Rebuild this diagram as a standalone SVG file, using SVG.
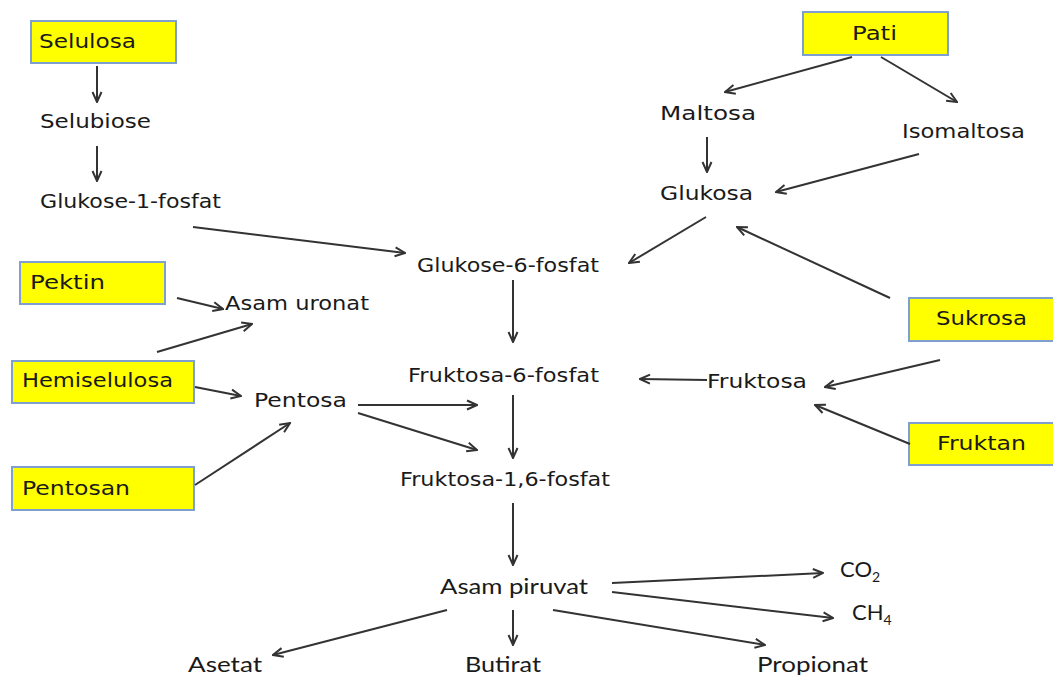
<svg xmlns="http://www.w3.org/2000/svg" width="1053" height="675" viewBox="0 0 1053 675">
<style>
.box{fill:#ffff00;stroke:#7f9fd0;stroke-width:2}
.t{font-family:"DejaVu Sans","Open Sans",sans-serif;font-size:20px;fill:#1a1a1a}
.b{font-family:Lato,"Open Sans",sans-serif;font-size:22px;fill:#1a1a1a}
.c line{stroke:#333;stroke-width:2;marker-end:url(#ah)}
</style>
<defs>
<marker id="ah" viewBox="0 0 12 12" refX="11" refY="6" markerWidth="12" markerHeight="12" markerUnits="userSpaceOnUse" orient="auto">
<path d="M1,1.5 L11,6 L1,10.5" fill="none" stroke="#333" stroke-width="2"/>
</marker>
</defs>
<rect width="1053" height="675" fill="#fff"/>
<g id="selulosa"><rect class="box" x="31" y="21" width="145" height="42"/><text class="t" x="39" y="48" textLength="97" lengthAdjust="spacingAndGlyphs">Selulosa</text></g>
<g id="pati"><rect class="box" x="803" y="12" width="145" height="43"/><text class="t" x="852" y="40" textLength="45" lengthAdjust="spacingAndGlyphs">Pati</text></g>
<g id="pektin"><rect class="box" x="20" y="262" width="145" height="42"/><text class="t" x="30" y="289" textLength="75" lengthAdjust="spacingAndGlyphs">Pektin</text></g>
<g id="hemiselulosa"><rect class="box" x="12" y="361" width="182" height="42"/><text class="t" x="22" y="387" textLength="151" lengthAdjust="spacingAndGlyphs">Hemiselulosa</text></g>
<g id="pentosan"><rect class="box" x="12" y="467" width="182" height="43"/><text class="t" x="22" y="495" textLength="108" lengthAdjust="spacingAndGlyphs">Pentosan</text></g>
<g id="sukrosa"><rect class="box" x="909" y="298" width="150" height="43"/><text class="t" x="936" y="325" textLength="91" lengthAdjust="spacingAndGlyphs">Sukrosa</text></g>
<g id="fruktan"><rect class="box" x="909" y="423" width="150" height="42"/><text class="t" x="937" y="450" textLength="89" lengthAdjust="spacingAndGlyphs">Fruktan</text></g>
<g id="selubiose"><text class="t" x="40" y="128" textLength="111" lengthAdjust="spacingAndGlyphs">Selubiose</text></g>
<g id="glukose1"><text class="t" x="40" y="208" textLength="181" lengthAdjust="spacingAndGlyphs">Glukose-1-fosfat</text></g>
<g id="maltosa"><text class="t" x="660" y="120" textLength="96" lengthAdjust="spacingAndGlyphs">Maltosa</text></g>
<g id="isomaltosa"><text class="t" x="902" y="138" textLength="123" lengthAdjust="spacingAndGlyphs">Isomaltosa</text></g>
<g id="glukosa"><text class="t" x="660" y="200" textLength="93" lengthAdjust="spacingAndGlyphs">Glukosa</text></g>
<g id="glukose6"><text class="t" x="417" y="272" textLength="182" lengthAdjust="spacingAndGlyphs">Glukose-6-fosfat</text></g>
<g id="asamuronat"><text class="t" x="225" y="310" textLength="144" lengthAdjust="spacingAndGlyphs">Asam uronat</text></g>
<g id="pentosa"><text class="t" x="254" y="407" textLength="93" lengthAdjust="spacingAndGlyphs">Pentosa</text></g>
<g id="fruktosa6"><text class="t" x="408" y="382" textLength="191" lengthAdjust="spacingAndGlyphs">Fruktosa-6-fosfat</text></g>
<g id="fruktosa16"><text class="t" x="400" y="486" textLength="210" lengthAdjust="spacingAndGlyphs">Fruktosa-1,6-fosfat</text></g>
<g id="fruktosa"><text class="t" x="707" y="388" textLength="100" lengthAdjust="spacingAndGlyphs">Fruktosa</text></g>
<g id="asampiruvat"><text class="b" x="440" y="594" textLength="148" lengthAdjust="spacingAndGlyphs">Asam piruvat</text></g>
<g id="asetat"><text class="b" x="188" y="672" textLength="74" lengthAdjust="spacingAndGlyphs">Asetat</text></g>
<g id="butirat"><text class="b" x="465" y="672" textLength="76" lengthAdjust="spacingAndGlyphs">Butirat</text></g>
<g id="propionat"><text class="b" x="757" y="672" textLength="111" lengthAdjust="spacingAndGlyphs">Propionat</text></g>
<g id="co2"><text class="b" x="840" y="577">CO<tspan font-size="14" dy="5">2</tspan></text></g>
<g id="ch4"><text class="b" x="852" y="620">CH<tspan font-size="14" dy="5">4</tspan></text></g>
<g id="connectors" class="c">
<line x1="97" y1="66" x2="97" y2="102"/>
<line x1="97" y1="146" x2="97" y2="181"/>
<line x1="193" y1="227" x2="405" y2="253"/>
<line x1="852" y1="57" x2="725" y2="92"/>
<line x1="881" y1="57" x2="957" y2="102"/>
<line x1="707" y1="137" x2="707" y2="172"/>
<line x1="919" y1="154" x2="776" y2="192"/>
<line x1="706" y1="217" x2="629" y2="263"/>
<line x1="890" y1="298" x2="737" y2="227"/>
<line x1="177" y1="298" x2="223" y2="309"/>
<line x1="157" y1="352" x2="252" y2="324"/>
<line x1="195" y1="387" x2="241" y2="396"/>
<line x1="195" y1="485" x2="290" y2="423"/>
<line x1="358" y1="405" x2="477" y2="405"/>
<line x1="358" y1="413" x2="477" y2="450"/>
<line x1="513" y1="280" x2="513" y2="342"/>
<line x1="513" y1="395" x2="513" y2="458"/>
<line x1="707" y1="380" x2="640" y2="379"/>
<line x1="940" y1="360" x2="825" y2="387"/>
<line x1="910" y1="444" x2="815" y2="405"/>
<line x1="513" y1="503" x2="513" y2="565"/>
<line x1="447" y1="610" x2="273" y2="655"/>
<line x1="513" y1="610" x2="513" y2="645"/>
<line x1="612" y1="583" x2="823" y2="573"/>
<line x1="612" y1="592" x2="833" y2="618"/>
<line x1="553" y1="610" x2="765" y2="645"/>
</g>
</svg>
